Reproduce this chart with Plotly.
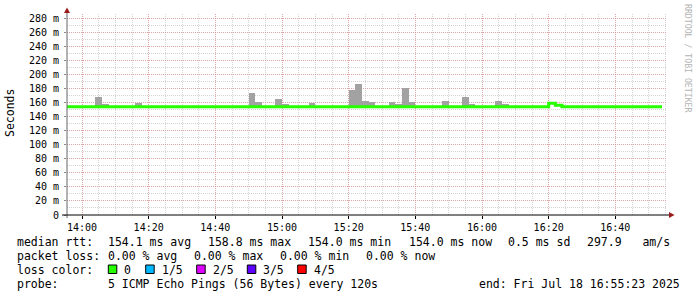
import plotly.graph_objects as go
import pandas as pd

DAY = "2025-07-18"

# ---- data ----
median_times = ["13:54", "16:20", "16:22", "16:24", "16:54"]   # step breakpoints
median_ms = [154.0, 158.8, 156.0, 154.0, 154.0]

smoke_bins = ["14:04", "14:06", "14:16", "14:50", "14:52", "14:58", "15:00",
              "15:08", "15:20", "15:22", "15:24", "15:26", "15:32", "15:34",
              "15:36", "15:38", "15:48", "15:54", "15:56", "16:04", "16:06"]
smoke_max_ms = [168.0, 157.8, 159.6, 173.8, 160.6, 164.9, 157.8,
                159.6, 177.7, 186.2, 162.0, 160.6, 160.6, 157.8,
                180.5, 160.6, 162.0, 167.7, 157.8, 162.0, 157.8]
smoke_min_ms = 153.5

x_tick_labels = ["14:00", "14:20", "14:40", "15:00", "15:20", "15:40", "16:00", "16:20", "16:40"]
y_tick_values = [0, 20, 40, 60, 80, 100, 120, 140, 160, 180, 200, 220, 240, 260, 280]
y_tick_labels = ["0"] + [f"{v} m" for v in y_tick_values[1:]]

loss_labels = ["0", "1/5", "2/5", "3/5", "4/5"]
loss_colors = ["#26ff00", "#00b8ff", "#dd00ff", "#5e00ff", "#ff0000"]

rtt_items = ["median rtt:", "154.1 ms avg", "158.8 ms max", "154.0 ms min",
             "154.0 ms now", "0.5 ms sd", "297.9   am/s"]
loss_items = ["packet loss:", "0.00 % avg", "0.00 % max", "0.00 % min", "0.00 % now"]
probe_text = "5 ICMP Echo Pings (56 Bytes) every 120s"
end_text = "end: Fri Jul 18 16:55:23 2025"

# ---- geometry (pixels) ----
W, H = 697, 297
L, R, T, B = 67, 667, 14, 215
FONT = "DejaVu Sans Mono"

def px(x):
    return (x - L) / (R - L)

def py(y):
    return (B - y) / (B - T)

def t(hm):
    return pd.Timestamp(f"{DAY} {hm}")

fig = go.Figure()

# smoke
starts = [t(s) for s in smoke_bins]
centers = [s + pd.Timedelta(minutes=1) for s in starts]
fig.add_trace(go.Bar(
    x=centers, y=[m - smoke_min_ms for m in smoke_max_ms], base=smoke_min_ms,
    width=120000, marker=dict(color="#a2a2a2", line=dict(width=0)),
    showlegend=False, hoverinfo="skip"))

# median line
fig.add_trace(go.Scatter(
    x=[t(s) for s in median_times], y=median_ms, mode="lines",
    line=dict(color=loss_colors[0], width=3, shape="hv"),
    showlegend=False, hoverinfo="skip"))

grid_minor = "rgba(160,160,160,0.45)"
grid_major = "rgba(235,110,110,0.45)"

fig.update_xaxes(
    type="date",
    range=[pd.Timestamp(f"{DAY} 13:55:30"), pd.Timestamp(f"{DAY} 16:55:30")],
    tickvals=[t(s) for s in x_tick_labels], ticktext=x_tick_labels,
    showgrid=True, gridcolor=grid_major, griddash="1px,1px", gridwidth=1,
    minor=dict(dtick=300000, tick0=f"{DAY} 14:00", showgrid=True,
               gridcolor=grid_minor, griddash="1px,1px", gridwidth=1),
    ticks="outside", ticklen=3, tickcolor="#000000", tickwidth=1,
    tickfont=dict(family=FONT, size=10, color="#000000"),
    showline=False, zeroline=False, fixedrange=True)

fig.update_yaxes(
    range=[0, (B - T) / (197.0 / 280.0)],
    tickvals=y_tick_values, ticktext=y_tick_labels,
    showgrid=True, gridcolor=grid_major, griddash="1px,1px", gridwidth=1,
    minor=dict(dtick=10, tick0=0, showgrid=True,
               gridcolor=grid_minor, griddash="1px,1px", gridwidth=1),
    ticks="outside", ticklen=2, tickcolor="#888888", tickwidth=1,
    tickfont=dict(family=FONT, size=10, color="#000000"),
    ticklabelstandoff=3,
    showline=False, zeroline=False, fixedrange=True)

shapes = []
# y axis line
shapes.append(dict(type="line", xref="paper", yref="paper",
                   x0=px(67), x1=px(67), y0=py(218), y1=py(11),
                   line=dict(color="#666666", width=1)))
# x axis line
shapes.append(dict(type="line", xref="paper", yref="paper",
                   x0=px(62), x1=px(671), y0=py(215), y1=py(215),
                   line=dict(color="#000000", width=1)))
# arrows
arrow_col = "#9b1c1c"
shapes.append(dict(type="path", xref="paper", yref="paper",
                   path=f"M {px(64)},{py(13)} L {px(70)},{py(13)} L {px(67)},{py(7.5)} Z",
                   fillcolor=arrow_col, line=dict(color=arrow_col, width=0)))
shapes.append(dict(type="path", xref="paper", yref="paper",
                   path=f"M {px(669)},{py(212)} L {px(669)},{py(218)} L {px(674.5)},{py(215)} Z",
                   fillcolor=arrow_col, line=dict(color=arrow_col, width=0)))

annotations = []

def label(x, y, text, size=11.5, color="#000000", **kw):
    annotations.append(dict(xref="paper", yref="paper", x=px(x), y=py(y), text=text,
                            showarrow=False, xanchor="left", yanchor="middle",
                            borderpad=0,
                            font=dict(family=FONT, size=size, color=color), **kw))

# y title
annotations.append(dict(xref="paper", yref="paper", x=px(10), y=py(113), text="Seconds",
                        showarrow=False, textangle=-90, xanchor="center", yanchor="middle",
                        font=dict(family=FONT, size=11.5, color="#000000")))
# watermark
annotations.append(dict(xref="paper", yref="paper", x=px(688.5), y=py(58.5),
                        text="RRDTOOL / TOBI OETIKER", showarrow=False, textangle=90,
                        xanchor="center", yanchor="middle",
                        font=dict(family=FONT, size=8.2, color="#b4b4b4")))

# legend lines
rtt_x = [16, 107.3, 207.3, 306.7, 407.7, 507.3, 586]
for x, s in zip(rtt_x, rtt_items):
    label(x, 241.5, s)
loss_x = [16, 107.3, 193.3, 279.3, 365.3]
for x, s in zip(loss_x, loss_items):
    label(x, 255.5, s)
label(16, 269.5, "loss color:")
box_x = [108.3, 145.7, 196.7, 247.3, 297.7]
for bx, lab, col in zip(box_x, loss_labels, loss_colors):
    shapes.append(dict(type="rect", xref="paper", yref="paper",
                       x0=px(bx), x1=px(bx + 8.5), y0=py(273.5), y1=py(265),
                       fillcolor=col, line=dict(color="#000000", width=1)))
    label(bx + 15, 269.5, lab)
label(16, 283.5, "probe:")
label(107.3, 283.5, probe_text)
label(478.3, 283.5, end_text)

fig.update_layout(
    width=W, height=H,
    margin=dict(l=L, r=W - R, t=T, b=H - B, pad=0),
    paper_bgcolor="#ffffff", plot_bgcolor="#ffffff",
    bargap=0, barmode="overlay",
    shapes=shapes, annotations=annotations,
    showlegend=False)

fig.write_html("out.html")
